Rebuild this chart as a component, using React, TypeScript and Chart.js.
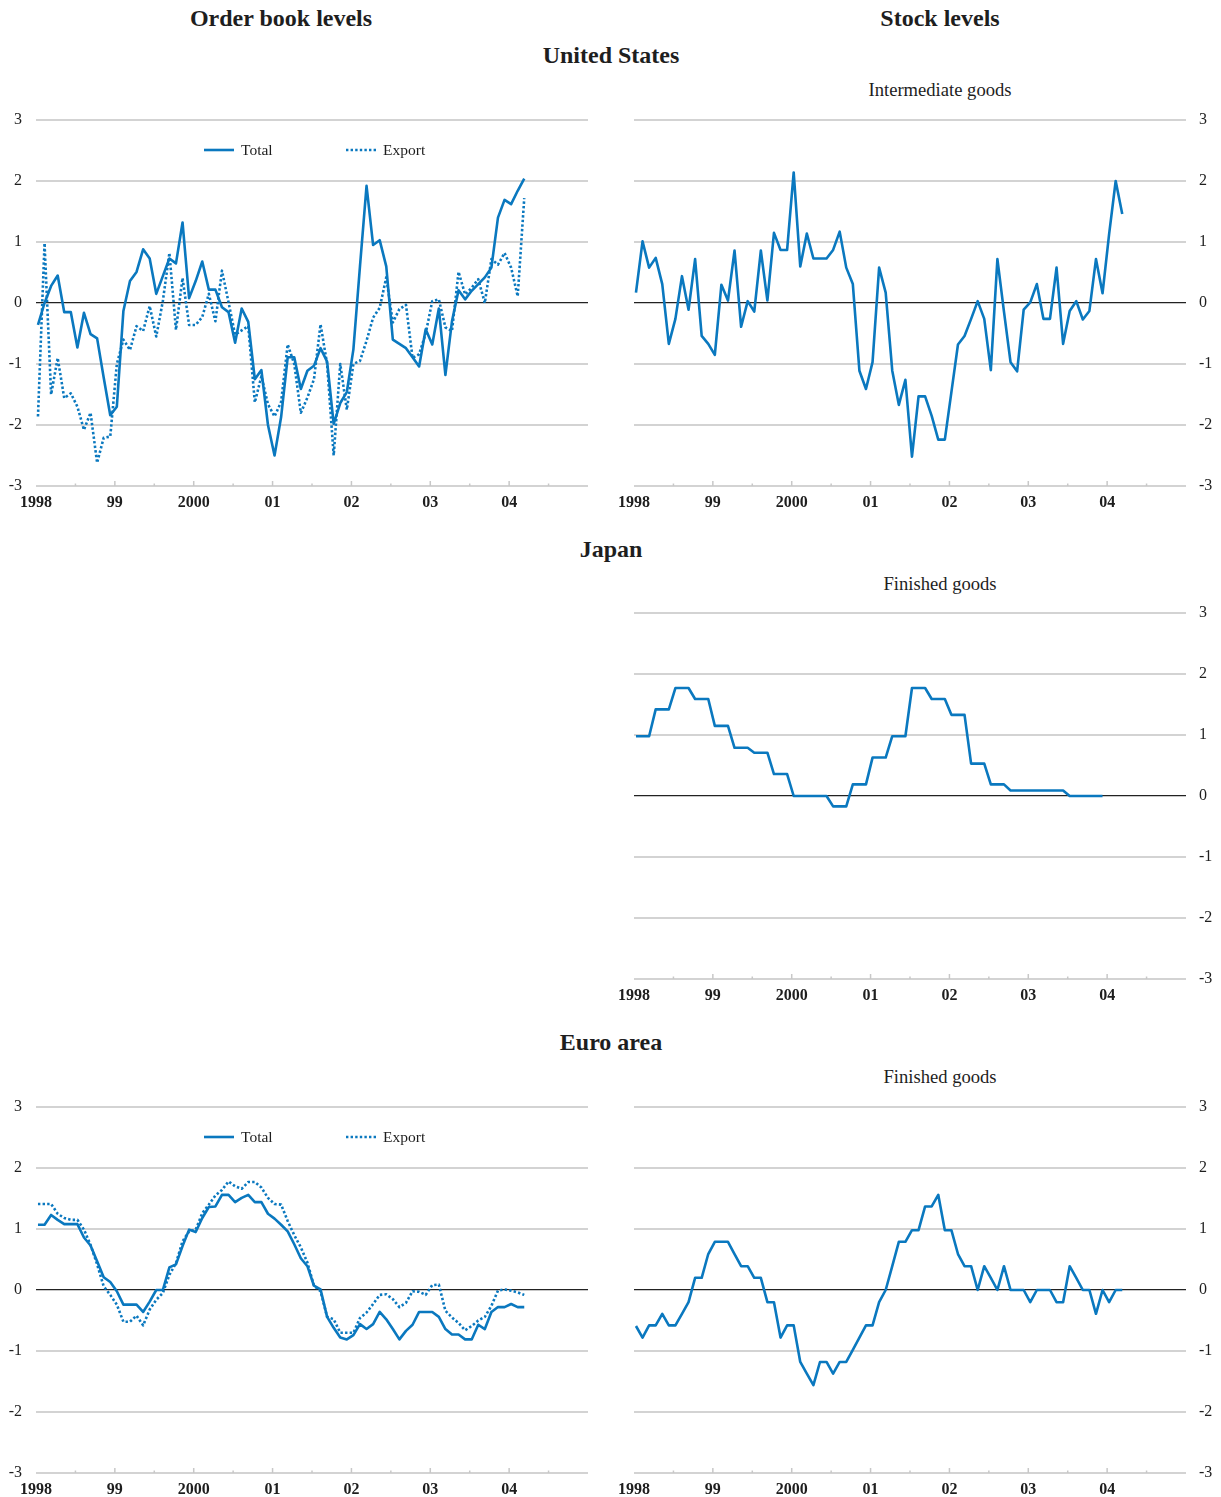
import React, { useEffect, useRef } from "react";
import { Chart, registerables } from "chart.js";

Chart.register(...registerables);

// ---------- DATA ----------
const START_YEAR = 1998;
const X_TICK_YEARS = [1998, 1999, 2000, 2001, 2002, 2003, 2004];
const X_TICK_LABELS = ["1998", "99", "2000", "01", "02", "03", "04"];
const Y_TICKS = [-3, -2, -1, 0, 1, 2, 3];

// United States – order book levels (monthly, Jan 1998 – Mar 2004)
const usOrderTotal = [
  -0.36, 0.0, 0.28, 0.45, -0.15, -0.15, -0.73, -0.16, -0.51, -0.58,
  -1.22, -1.84, -1.7, -0.13, 0.36, 0.51, 0.88, 0.73, 0.15, 0.44,
  0.73, 0.65, 1.32, 0.08, 0.36, 0.68, 0.22, 0.22, -0.07, -0.15,
  -0.65, -0.09, -0.31, -1.25, -1.1, -2.0, -2.5, -1.87, -0.89, -0.89,
  -1.41, -1.11, -1.03, -0.74, -0.96, -1.98, -1.64, -1.46, -0.76, 0.6,
  1.92, 0.95, 1.03, 0.6, -0.6, -0.67, -0.74, -0.89, -1.04, -0.43,
  -0.68, -0.09, -1.18, -0.3, 0.21, 0.06, 0.2, 0.31, 0.42, 0.58,
  1.4, 1.69, 1.62, 1.84, 2.04,
];
const usOrderExport = [
  -1.86, 0.98, -1.5, -0.9, -1.56, -1.48, -1.7, -2.08, -1.8, -2.62,
  -2.21, -2.19, -1.0, -0.6, -0.77, -0.38, -0.46, -0.05, -0.55, 0.03,
  0.82, -0.44, 0.41, -0.36, -0.36, -0.23, 0.15, -0.3, 0.53, 0.01,
  -0.52, -0.45, -0.38, -1.63, -1.2, -1.66, -1.86, -1.62, -0.68, -1.0,
  -1.8, -1.55, -1.25, -0.35, -1.0, -2.5, -1.0, -1.75, -1.0, -0.95,
  -0.62, -0.24, -0.08, 0.42, -0.32, -0.1, -0.03, -0.9, -0.84, -0.5,
  0.03, 0.06, -0.4, -0.46, 0.51, 0.14, 0.25, 0.39, 0.0, 0.72,
  0.63, 0.82, 0.58, 0.11, 1.72,
];
// United States – stock levels, intermediate goods
const usStockIntermediate = [
  0.17, 1.01, 0.58, 0.74, 0.31, -0.67, -0.26, 0.44, -0.11, 0.72,
  -0.54, -0.67, -0.85, 0.3, 0.04, 0.86, -0.39, 0.03, -0.14, 0.86,
  0.04, 1.15, 0.87, 0.87, 2.14, 0.6, 1.14, 0.73, 0.73, 0.73,
  0.87, 1.17, 0.58, 0.31, -1.11, -1.41, -0.97, 0.58, 0.17, -1.11,
  -1.67, -1.26, -2.52, -1.53, -1.53, -1.85, -2.24, -2.24, -1.46, -0.68,
  -0.54, -0.26, 0.03, -0.26, -1.1, 0.72, -0.14, -0.97, -1.12, -0.11,
  0.01, 0.31, -0.26, -0.26, 0.58, -0.67, -0.13, 0.03, -0.27, -0.13,
  0.72, 0.16, 1.13, 2.0, 1.46,
];
// Japan – stock levels, finished goods (monthly, Jan 1998 – Dec 2003)
const jpStockFinished = [
  0.98, 0.98, 0.98, 1.42, 1.42, 1.42, 1.77, 1.77, 1.77, 1.59, 1.59, 1.59,
  1.15, 1.15, 1.15, 0.79, 0.79, 0.79, 0.71, 0.71, 0.71, 0.36, 0.36, 0.36,
  0.0, 0.0, 0.0, 0.0, 0.0, 0.0, -0.17, -0.17, -0.17, 0.19, 0.19, 0.19,
  0.63, 0.63, 0.63, 0.98, 0.98, 0.98, 1.77, 1.77, 1.77, 1.59, 1.59, 1.59,
  1.33, 1.33, 1.33, 0.53, 0.53, 0.53, 0.19, 0.19, 0.19, 0.09, 0.09, 0.09,
  0.09, 0.09, 0.09, 0.09, 0.09, 0.09, 0.0, 0.0, 0.0, 0.0, 0.0, 0.0,
];
// Euro area – order book levels
const euOrderTotal = [
  1.07, 1.07, 1.23, 1.15, 1.08, 1.08, 1.08, 0.86, 0.73, 0.47,
  0.21, 0.13, -0.02, -0.24, -0.24, -0.24, -0.36, -0.19, 0.0, 0.0,
  0.37, 0.42, 0.72, 0.99, 0.95, 1.18, 1.36, 1.37, 1.56, 1.56,
  1.44, 1.51, 1.56, 1.44, 1.44, 1.25, 1.17, 1.07, 0.96, 0.75,
  0.52, 0.39, 0.07, 0.01, -0.44, -0.62, -0.78, -0.81, -0.74, -0.56,
  -0.64, -0.56, -0.36, -0.48, -0.64, -0.81, -0.67, -0.57, -0.36, -0.36,
  -0.36, -0.44, -0.64, -0.73, -0.73, -0.81, -0.81, -0.57, -0.64, -0.36,
  -0.28, -0.28, -0.23, -0.28, -0.28,
];
const euOrderExport = [
  1.41, 1.41, 1.41, 1.25, 1.18, 1.15, 1.15, 0.99, 0.74, 0.42,
  0.06, -0.08, -0.24, -0.52, -0.52, -0.42, -0.58, -0.32, -0.16, -0.05,
  0.25, 0.44, 0.8, 0.96, 0.99, 1.26, 1.4, 1.55, 1.64, 1.78,
  1.7, 1.66, 1.77, 1.77, 1.68, 1.51, 1.41, 1.4, 1.13, 0.9,
  0.7, 0.45, 0.07, -0.02, -0.44, -0.48, -0.7, -0.7, -0.7, -0.46,
  -0.37, -0.23, -0.08, -0.07, -0.15, -0.28, -0.21, -0.02, -0.03, -0.08,
  0.08, 0.09, -0.34, -0.45, -0.54, -0.66, -0.59, -0.5, -0.44, -0.26,
  -0.01, 0.01, -0.01, -0.04, -0.08,
];
// Euro area – stock levels, finished goods
const euStockFinished = [
  -0.59, -0.78, -0.58, -0.58, -0.39, -0.58, -0.58, -0.39, -0.2, 0.2,
  0.2, 0.59, 0.79, 0.79, 0.79, 0.59, 0.39, 0.39, 0.2, 0.2,
  -0.2, -0.2, -0.78, -0.58, -0.58, -1.18, -1.37, -1.56, -1.18, -1.18,
  -1.37, -1.18, -1.18, -0.98, -0.78, -0.58, -0.58, -0.2, 0.0, 0.39,
  0.79, 0.79, 0.98, 0.98, 1.37, 1.37, 1.56, 0.98, 0.98, 0.59,
  0.39, 0.39, 0.0, 0.39, 0.2, 0.0, 0.39, 0.0, 0.0, 0.0,
  -0.2, 0.0, 0.0, 0.0, -0.2, -0.2, 0.39, 0.2, 0.0, 0.0,
  -0.39, 0.0, -0.2, 0.0, 0.0,
];

// ---------- STYLE ----------
const BLUE = "#0a78bf";
const GRID = "#d3d3d3";
const TEXT = "#1e1e1e";
const FONT = "'Liberation Serif', 'Times New Roman', serif";

type Series = { label: string; values: number[]; dashed?: boolean };

const toPoints = (values: number[]) =>
  values.map((v, i) => ({ x: START_YEAR + (i + 0.3) / 12, y: v }));

const tickMarksPlugin = {
  id: "tickMarks",
  beforeDatasetsDraw(chart: any) {
    const xs = chart.scales.x;
    const { bottom } = chart.chartArea;
    const ctx = chart.ctx;
    ctx.save();
    ctx.strokeStyle = "#c8c8c8";
    ctx.lineWidth = 1.5;
    for (let k = 1; k <= 13; k++) {
      const v = START_YEAR + k / 2;
      const px = xs.getPixelForValue(v);
      const len = k % 2 === 0 ? 5 : 2.5;
      ctx.beginPath();
      ctx.moveTo(px, bottom);
      ctx.lineTo(px, bottom - len);
      ctx.stroke();
    }
    ctx.restore();
  },
};

const legendPlugin = {
  id: "inlineLegend",
  afterDraw(chart: any, _args: any, opts: any) {
    if (!opts || !opts.show) return;
    const ctx = chart.ctx;
    const { left, top } = chart.chartArea;
    const offsets = [168, 310];
    ctx.save();
    chart.data.datasets.forEach((ds: any, i: number) => {
      const x0 = left + offsets[i];
      const y = top + 30;
      ctx.strokeStyle = ds.borderColor;
      ctx.lineWidth = ds.borderWidth;
      ctx.setLineDash(ds.borderDash || []);
      ctx.lineCap = "butt";
      ctx.beginPath();
      ctx.moveTo(x0, y);
      ctx.lineTo(x0 + 30, y);
      ctx.stroke();
      ctx.setLineDash([]);
      ctx.fillStyle = TEXT;
      ctx.font = `15.5px ${FONT}`;
      ctx.textBaseline = "middle";
      ctx.textAlign = "left";
      ctx.fillText(ds.label, x0 + 37, y + 1);
    });
    ctx.restore();
  },
};

type PanelProps = {
  left: number;
  top: number;
  width: number;
  height: number;
  plotLeft: number;
  plotRight: number;
  plotTop: number;
  plotBottom: number;
  yPos: "left" | "right";
  series: Series[];
  legend?: boolean;
};

function Panel(p: PanelProps) {
  const ref = useRef<HTMLCanvasElement | null>(null);
  useEffect(() => {
    if (!ref.current) return;
    const yAxisWidth = p.yPos === "left" ? p.plotLeft - p.left : p.left + p.width - p.plotRight;
    const padLeft = p.yPos === "left" ? 0 : p.plotLeft - p.left;
    const padRight = p.yPos === "right" ? 0 : p.left + p.width - p.plotRight;
    const xAxisHeight = p.top + p.height - p.plotBottom;
    const chart = new Chart(ref.current, {
      type: "line",
      data: {
        datasets: p.series.map((s) => ({
          label: s.label,
          data: toPoints(s.values),
          borderColor: BLUE,
          borderWidth: 2.6,
          borderDash: s.dashed ? [2.4, 2.2] : [],
          borderCapStyle: "butt",
          borderJoinStyle: "round",
          pointRadius: 0,
          tension: 0,
          fill: false,
        })),
      },
      options: {
        animation: false,
        responsive: false,
        maintainAspectRatio: false,
        events: [],
        layout: { padding: { left: padLeft, right: padRight, top: p.plotTop - p.top, bottom: 0 } },
        plugins: {
          legend: { display: false },
          tooltip: { enabled: false },
          inlineLegend: { show: !!p.legend },
        } as any,
        scales: {
          x: {
            type: "linear",
            min: START_YEAR,
            max: 2005,
            grid: { display: false, drawTicks: false },
            border: { display: false },
            afterBuildTicks: (s: any) => {
              s.ticks = X_TICK_YEARS.map((v) => ({ value: v }));
            },
            afterFit: (s: any) => {
              s.height = xAxisHeight;
            },
            ticks: {
              autoSkip: false,
              maxRotation: 0,
              padding: 7,
              color: TEXT,
              font: { family: FONT, size: 16, weight: "bold" },
              callback: (v: any) => {
                const idx = X_TICK_YEARS.indexOf(Number(v));
                return idx >= 0 ? X_TICK_LABELS[idx] : "";
              },
            },
          },
          y: {
            position: p.yPos,
            min: -3,
            max: 3,
            afterBuildTicks: (s: any) => {
              s.ticks = Y_TICKS.map((v) => ({ value: v }));
            },
            afterFit: (s: any) => {
              s.width = yAxisWidth;
            },
            grid: {
              drawTicks: false,
              color: (c: any) => (c.tick && c.tick.value === 0 ? "#222222" : GRID),
              lineWidth: (c: any) => (c.tick && c.tick.value === 0 ? 1.2 : 2),
            },
            border: { display: false },
            ticks: {
              padding: p.yPos === "left" ? 14 : 13,
              color: TEXT,
              font: { family: FONT, size: 16 },
              callback: (v: any) => String(v),
            },
          },
        },
      } as any,
      plugins: [tickMarksPlugin, legendPlugin],
    });
    return () => chart.destroy();
  }, []);
  return (
    <canvas
      ref={ref}
      width={p.width}
      height={p.height}
      style={{ position: "absolute", left: p.left, top: p.top, width: p.width, height: p.height }}
    />
  );
}

function Label(props: { x: number; y: number; text: string; bold?: boolean; size: number }) {
  return (
    <div
      style={{
        position: "absolute",
        left: props.x,
        top: props.y,
        transform: "translate(-50%, -50%)",
        whiteSpace: "nowrap",
        fontFamily: FONT,
        fontSize: props.size,
        fontWeight: props.bold ? "bold" : "normal",
        color: TEXT,
        lineHeight: 1,
      }}
    >
      {props.text}
    </div>
  );
}

export default function App() {
  return (
    <div
      style={{
        position: "absolute",
        left: 0,
        top: 0,
        width: 1221,
        height: 1497,
        background: "#ffffff",
        overflow: "hidden",
      }}
    >
      <Label x={281} y={18} text="Order book levels" bold size={24} />
      <Label x={940} y={18} text="Stock levels" bold size={24} />
      <Label x={611} y={55} text="United States" bold size={24} />
      <Label x={940} y={90} text="Intermediate goods" size={18.6} />
      <Label x={611} y={549} text="Japan" bold size={24} />
      <Label x={940} y={584} text="Finished goods" size={18.6} />
      <Label x={611} y={1042} text="Euro area" bold size={24} />
      <Label x={940} y={1077} text="Finished goods" size={18.6} />

      <Panel
        left={0} top={94} width={610} height={427}
        plotLeft={36} plotRight={588} plotTop={120} plotBottom={486}
        yPos="left" legend
        series={[
          { label: "Total", values: usOrderTotal },
          { label: "Export", values: usOrderExport, dashed: true },
        ]}
      />
      <Panel
        left={610} top={94} width={611} height={427}
        plotLeft={634} plotRight={1186} plotTop={120} plotBottom={486}
        yPos="right"
        series={[{ label: "Intermediate goods", values: usStockIntermediate }]}
      />
      <Panel
        left={610} top={587} width={611} height={429}
        plotLeft={634} plotRight={1186} plotTop={613} plotBottom={979}
        yPos="right"
        series={[{ label: "Finished goods", values: jpStockFinished }]}
      />
      <Panel
        left={0} top={1081} width={610} height={417}
        plotLeft={36} plotRight={588} plotTop={1107} plotBottom={1473}
        yPos="left" legend
        series={[
          { label: "Total", values: euOrderTotal },
          { label: "Export", values: euOrderExport, dashed: true },
        ]}
      />
      <Panel
        left={610} top={1081} width={611} height={417}
        plotLeft={634} plotRight={1186} plotTop={1107} plotBottom={1473}
        yPos="right"
        series={[{ label: "Finished goods", values: euStockFinished }]}
      />
    </div>
  );
}
